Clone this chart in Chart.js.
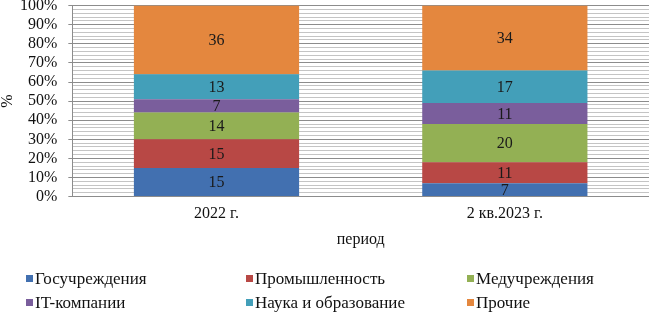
<!DOCTYPE html>
<html>
<head>
<meta charset="utf-8">
<script src="https://cdn.jsdelivr.net/npm/chart.js@4/dist/chart.umd.min.js"></script>
<style>
  html, body { margin: 0; padding: 0; background: #fff; }
  #outer { width: 651px; height: 312px; position: relative; overflow: hidden; }
  #wrap { width: 655px; height: 327px; position: absolute; left: -4px; top: -15px; }
</style>
</head>
<body>
<div id="outer"><div id="wrap"><canvas id="myChart"></canvas></div></div>
<script>
// data
const periods = ['2022 г.', '2 кв.2023 г.'];
const seriesNames = ['Госучреждения', 'Промышленность', 'Медучреждения', 'IT-компании', 'Наука и образование', 'Прочие'];
const gosuch = [15, 7];
const prom = [15, 11];
const meduch = [14, 20];
const itComp = [7, 11];
const nauka = [13, 17];
const prochie = [36, 34];
const colors = ['#4270B0', '#B84845', '#93B054', '#7A5E9C', '#439FB9', '#E4873E'];

const allValues = [gosuch, prom, meduch, itComp, nauka, prochie];
const serif = "'Liberation Serif', 'Times New Roman', serif";

// value labels in the middle of every segment
const segmentLabels = {
  id: 'segmentLabels',
  afterDatasetsDraw(chart) {
    const ctx = chart.ctx;
    ctx.save();
    ctx.font = '16px ' + serif;
    ctx.fillStyle = '#1a1a1a';
    ctx.textAlign = 'center';
    ctx.textBaseline = 'middle';
    chart.data.datasets.forEach((ds, i) => {
      chart.getDatasetMeta(i).data.forEach((bar, j) => {
        const mid = (bar.y + bar.base) / 2;
        ctx.fillText(String(ds.data[j]), bar.x, mid + 1);
      });
    });
    ctx.restore();
  }
};

// y axis title "%" and the legend in three columns, like the original
const columnLegend = {
  id: 'columnLegend',
  afterDraw(chart) {
    const ctx = chart.ctx;
    const area = chart.chartArea;
    ctx.save();
    ctx.font = '16px ' + serif;
    ctx.fillStyle = '#111';
    ctx.textAlign = 'center';
    ctx.textBaseline = 'middle';
    ctx.translate(12, (area.top + area.bottom) / 2);
    ctx.rotate(-Math.PI / 2);
    ctx.fillText('%', 0, 0);
    ctx.restore();

    const colX = [30, 250, 471];
    const rowY = [294, 318];
    ctx.save();
    ctx.font = '17px ' + serif;
    ctx.textBaseline = 'middle';
    ctx.textAlign = 'left';
    seriesNames.forEach((name, i) => {
      const x = colX[i % 3];
      const y = rowY[Math.floor(i / 3)];
      ctx.fillStyle = colors[i];
      ctx.fillRect(x, y - 4, 7, 7);
      ctx.fillStyle = '#111';
      ctx.fillText(name, x + 9, y + 1);
    });
    ctx.restore();
  }
};

const ctx = document.getElementById('myChart').getContext('2d');
new Chart(ctx, {
  type: 'bar',
  data: {
    labels: periods,
    datasets: seriesNames.map((name, i) => ({
      label: name,
      data: allValues[i],
      backgroundColor: colors[i],
      borderWidth: 0,
      categoryPercentage: 1,
      barPercentage: 0.573
    }))
  },
  options: {
    responsive: true,
    maintainAspectRatio: false,
    animation: false,
    layout: { padding: { top: 0, right: 2, bottom: 59, left: 13 } },
    plugins: {
      legend: { display: false },
      tooltip: { enabled: false }
    },
    scales: {
      x: {
        stacked: true,
        grid: { display: false },
        border: { display: false },
        ticks: { color: '#111', font: { family: serif, size: 16 }, padding: 0 },
        title: { display: true, text: 'период', color: '#111', font: { family: serif, size: 16 }, padding: { top: 6, bottom: 4 } }
      },
      y: {
        stacked: true,
        min: 0,
        max: 100,
        border: { display: true, color: '#8c8c8c' },
        grid: {
          color: (c) => (c.tick && c.tick.value % 10 === 0) ? '#8c8c8c' : '#c4c4c4',
          tickColor: (c) => (c.tick && c.tick.value % 10 === 0) ? '#8c8c8c' : 'rgba(0,0,0,0)',
          tickLength: 4
        },
        ticks: {
          stepSize: 2,
          autoSkip: false,
          color: '#111',
          font: { family: serif, size: 16 },
          padding: 11,
          callback: (v) => (v % 10 === 0 ? v + '%' : '')
        }
      }
    }
  },
  plugins: [segmentLabels, columnLegend]
});
</script>
</body>
</html>
